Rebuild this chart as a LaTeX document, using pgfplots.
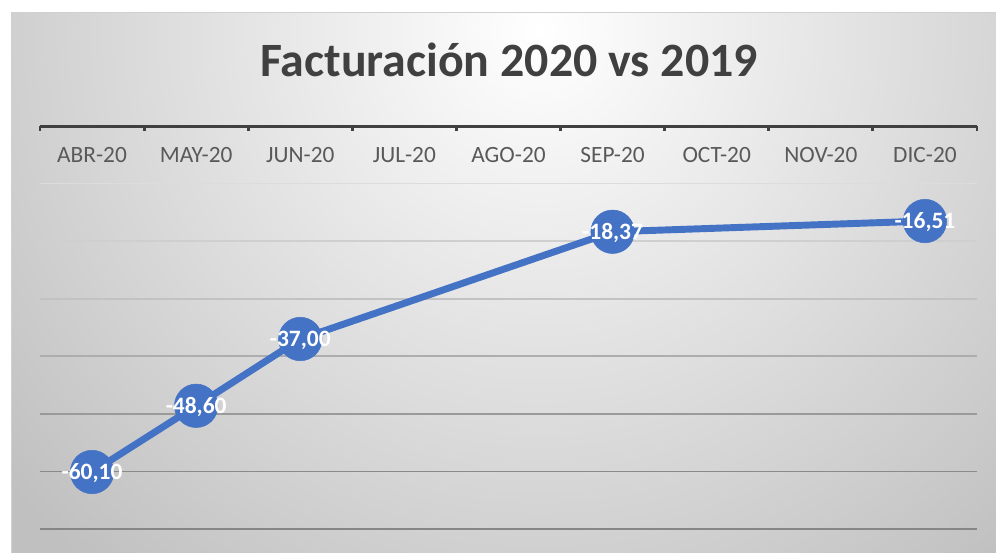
\documentclass[border=0pt]{standalone}
\usepackage{pgfplots}
\pgfplotsset{compat=1.18}
\usepackage{pgfplotstable}
\usepackage{fontspec}
\setmainfont{Carlito}
\definecolor{linecol}{HTML}{4472C4}
\definecolor{titlecol}{HTML}{404040}
\definecolor{labelcol}{HTML}{595959}
\definecolor{axiscol}{HTML}{404040}
\definecolor{bgouter}{RGB}{192,192,192}
\definecolor{bordercol}{HTML}{D0D0D0}
\definecolor{g1}{RGB}{220,220,220}
\definecolor{g2}{RGB}{207,207,207}
\definecolor{g3}{RGB}{194,194,194}
\definecolor{g4}{RGB}{173,173,173}
\definecolor{g5}{RGB}{154,154,154}
\definecolor{g6}{RGB}{138,138,138}
\definecolor{g7}{RGB}{134,134,134}
\pgfplotstableread{
x y label
0 -60.10 -60,10
1 -48.60 -48,60
2 -37.00 -37,00
5 -18.37 -18,37
8 -16.51 -16,51
}\datatable
\begin{document}
\begin{tikzpicture}
\useasboundingbox (0,0) rectangle (747pt,-414.75pt);
\fill[white] (0,0) rectangle (747pt,-414.75pt);
\begin{scope}
\clip (8.25pt,-9pt) rectangle (747pt,-414.75pt);
\shade[inner color=white, outer color=bgouter] (-120pt,-547.5pt) rectangle (930pt,502.5pt);
\end{scope}
\draw[bordercol, line width=0.75pt] (8.25pt,-414.75pt) -- (8.25pt,-9pt) -- (747pt,-9pt);
\node[anchor=base, font=\fontsize{35.9}{42}\selectfont\bfseries, text=titlecol, inner sep=0pt] at (381.75pt,-57.5pt) {Facturación 2020 vs 2019};
\begin{axis}[
 at={(30pt,-396.75pt)}, anchor=south west,
 scale only axis, width=702.75pt, height=302.25pt,
 xmin=-0.5, xmax=8.5, ymin=-70, ymax=0,
 axis line style={draw=none},
 xtick={0,...,8},
 xticklabels={ABR-20,MAY-20,JUN-20,JUL-20,AGO-20,SEP-20,OCT-20,NOV-20,DIC-20},
 xtick pos=right, xticklabel pos=right,
 major tick length=0pt,
 minor xtick={-0.5,0.5,...,8.5},
 minor tick length=4pt,
 minor tick style={line width=2.2pt, color=axiscol},
 xticklabel style={anchor=base, yshift=-27.5pt, font=\fontsize{17.5}{20}\selectfont, text=labelcol},
 ytick=\empty,
 clip=false,
 point meta=explicit symbolic,
 nodes near coords,
 nodes near coords align=center,
 every node near coord/.append style={font=\fontsize{17.6}{20}\selectfont\bfseries, text=white, anchor=base, yshift=-5.6pt, inner sep=0pt},
]
\draw[g1, line width=1.2pt] (axis cs:-0.5,-10) -- (axis cs:8.5,-10);
\draw[g2, line width=1.2pt] (axis cs:-0.5,-20) -- (axis cs:8.5,-20);
\draw[g3, line width=1.2pt] (axis cs:-0.5,-30) -- (axis cs:8.5,-30);
\draw[g4, line width=1.2pt] (axis cs:-0.5,-40) -- (axis cs:8.5,-40);
\draw[g5, line width=1.2pt] (axis cs:-0.5,-50) -- (axis cs:8.5,-50);
\draw[g6, line width=1.2pt] (axis cs:-0.5,-60) -- (axis cs:8.5,-60);
\draw[g7, line width=1.2pt] (axis cs:-0.5,-70) -- (axis cs:8.5,-70);
\draw[axiscol, line width=2.25pt] (axis cs:-0.5,0) -- (axis cs:8.5,0);
\addplot[color=linecol, line width=5.2pt, line join=round, mark=*, mark size=16.3pt,
  mark options={fill=linecol, draw=linecol, line width=0.4pt}]
  table[x=x, y=y, meta=label] {\datatable};
\end{axis}
\end{tikzpicture}
\end{document}
